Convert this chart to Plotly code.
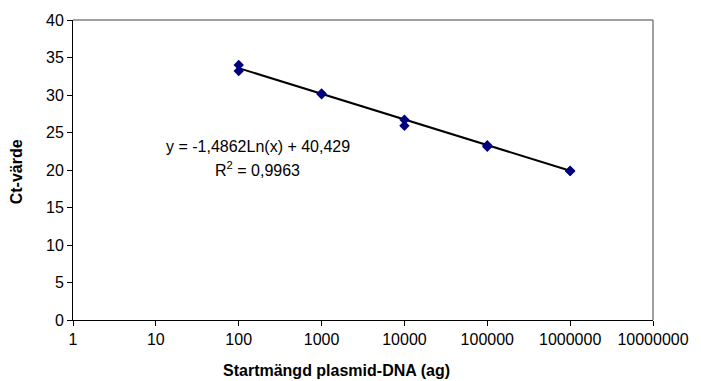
import math
import plotly.graph_objects as go

# Data
x_amount = [100, 100, 1000, 1000, 10000, 10000, 100000, 100000, 1000000, 1000000]
ct_values = [34.0, 33.2, 30.2, 30.1, 26.7, 25.9, 23.3, 23.1, 19.9, 19.85]
trend_slope = -1.4862
trend_intercept = 40.429
r_squared = "0,9963"
x_ticks = [1, 10, 100, 1000, 10000, 100000, 1000000, 10000000]
x_ticktext = ["1", "10", "100", "1000", "10000", "100000", "1000000", "10000000"]
y_ticks = [0, 5, 10, 15, 20, 25, 30, 35, 40]

trend_x = [100, 1000, 10000, 100000, 1000000]
trend_y = [trend_slope * math.log(v) + trend_intercept for v in trend_x]

FONT = "Liberation Sans, Arial, sans-serif"
FS = 16

fig = go.Figure()
fig.add_trace(go.Scatter(x=trend_x, y=trend_y, mode="lines",
                         line=dict(color="black", width=2), showlegend=False,
                         hoverinfo="skip"))
fig.add_trace(go.Scatter(x=x_amount, y=ct_values, mode="markers",
                         marker=dict(symbol="diamond", color="#000080", size=8),
                         showlegend=False))

W, H = 701, 381
L, R, T, B = 72.5, 43, 20, 61

fig.update_layout(
    width=W, height=H,
    margin=dict(l=L, r=R, t=T, b=B, pad=0),
    paper_bgcolor="white", plot_bgcolor="white",
    font=dict(family=FONT, size=FS, color="black"),
    xaxis=dict(type="log", range=[0, 7], tickvals=x_ticks, ticktext=x_ticktext,
               showgrid=False, zeroline=False, showline=True, linecolor="black",
               linewidth=1, ticks="outside", ticklen=5, tickcolor="black",
               tickfont=dict(size=FS, family=FONT, color="black")),
    yaxis=dict(range=[0, 40], tickvals=y_ticks, showgrid=False, zeroline=False,
               showline=True, linecolor="black", linewidth=1, ticks="outside",
               ticklen=5, tickcolor="black",
               tickfont=dict(size=FS, family=FONT, color="black")),
    shapes=[
        dict(type="line", xref="paper", yref="paper", x0=0, x1=1, y0=1, y1=1,
             line=dict(color="#808080", width=1.5)),
        dict(type="line", xref="paper", yref="paper", x0=1, x1=1, y0=0, y1=1,
             line=dict(color="#808080", width=1.5)),
    ],
    annotations=[
        dict(text="<b>Startmängd plasmid-DNA (ag)</b>", xref="paper", yref="paper",
             x=0.455, y=-0.167, xanchor="center", yanchor="middle", showarrow=False,
             font=dict(size=FS, family=FONT, color="black")),
        dict(text="<b>Ct-värde</b>", xref="paper", yref="paper",
             x=-0.098, y=0.493, xanchor="center", yanchor="middle", showarrow=False,
             textangle=-90, font=dict(size=FS, family=FONT, color="black")),
        dict(text="y = -1,4862Ln(x) + 40,429", xref="paper", yref="paper",
             x=0.3185, y=0.58, xanchor="center", yanchor="middle", showarrow=False,
             font=dict(size=FS, family=FONT, color="black")),
        dict(text="R<sup>2</sup> = " + r_squared, xref="paper", yref="paper",
             x=0.3185, y=0.503, xanchor="center", yanchor="middle", showarrow=False,
             font=dict(size=FS, family=FONT, color="black")),
    ],
)

fig.write_html("out.html",
               config={"displayModeBar": False},
               post_script="document.body.style.margin='0';document.body.style.overflow='hidden';")
